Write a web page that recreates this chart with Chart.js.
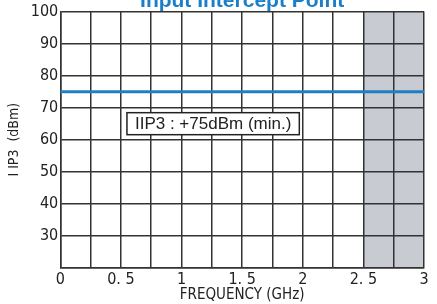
<!DOCTYPE html>
<html>
<head>
<meta charset="utf-8">
<script src="https://cdn.jsdelivr.net/npm/chart.js@4"></script>
<style>
  html, body { margin: 0; padding: 0; background: #fff; }
  #wrap { width: 437px; height: 304px; position: relative; }
</style>
</head>
<body>
<div id="wrap"><canvas id="iipChart"></canvas></div>
<script>
// data
const freqGHz = [0, 3];
const iip3 = [75, 75];
const xTicksShown = [0, 0.5, 1, 1.5, 2, 2.5, 3];
const xTickLabels = ['0', '0. 5', '1', '1. 5', '2', '2. 5', '3'];
const shadeRange = [2.5, 3];
const noteText = 'IIP3 : +75dBm (min.)';
const notePos = [0.55, 65]; // GHz, dBm (left, middle)

const narrow = '"Liberation Sans Narrow", "DejaVu Sans Condensed", sans-serif';

const extras = {
  id: 'extras',
  beforeDraw(chart) {
    // shade goes under the grid
    const { ctx, chartArea, scales: { x } } = chart;
    const x0 = x.getPixelForValue(shadeRange[0]);
    const x1 = x.getPixelForValue(shadeRange[1]);
    ctx.save();
    ctx.fillStyle = '#c9cbd3';
    ctx.fillRect(x0, chartArea.top, x1 - x0, chartArea.bottom - chartArea.top);
    ctx.restore();
  },
  afterDatasetsDraw(chart) {
    const { ctx, scales: { x, y } } = chart;
    ctx.save();
    // note box
    ctx.font = '17px "Liberation Sans", Arial, sans-serif';
    const w = ctx.measureText(noteText).width;
    const px = x.getPixelForValue(notePos[0]);
    const py = y.getPixelForValue(notePos[1]);
    ctx.fillStyle = '#fff';
    ctx.fillRect(px, py - 11, w + 16, 22);
    ctx.strokeStyle = '#222';
    ctx.lineWidth = 1.5;
    ctx.strokeRect(px, py - 11, w + 16, 22);
    ctx.fillStyle = '#222';
    ctx.textBaseline = 'middle';
    ctx.fillText(noteText, px + 8, py + 1);
    // title (cut off at the top)
    ctx.font = 'bold 21px "Liberation Sans", Arial, sans-serif';
    ctx.fillStyle = '#1a7fc8';
    ctx.textAlign = 'center';
    ctx.textBaseline = 'alphabetic';
    ctx.fillText('Input Intercept Point', (x.left + x.right) / 2, 7);
    ctx.restore();
  }
};

new Chart(document.getElementById('iipChart'), {
  type: 'line',
  data: {
    datasets: [{
      data: freqGHz.map((f, i) => ({ x: f, y: iip3[i] })),
      borderColor: '#1f7ec4',
      borderWidth: 3,
      pointRadius: 0,
      fill: false,
      tension: 0
    }]
  },
  options: {
    responsive: true,
    maintainAspectRatio: false,
    animation: false,
    layout: { padding: { top: 11, right: 13, left: 6 } },
    plugins: {
      legend: { display: false },
      tooltip: { enabled: false }
    },
    scales: {
      x: {
        type: 'linear',
        min: 0,
        max: 3,
        grid: { color: '#333', lineWidth: 1.5, drawTicks: false },
        border: { color: '#333', width: 1.5 },
        ticks: {
          stepSize: 0.25,
          autoSkip: false,
          maxRotation: 0,
          padding: 2,
          color: '#222',
          font: { family: narrow, size: 16 },
          callback: (v) => {
            const i = xTicksShown.findIndex(t => Math.abs(t - v) < 1e-6);
            return i >= 0 ? xTickLabels[i] : '';
          }
        },
        title: {
          display: true,
          text: 'FREQUENCY (GHz)',
          color: '#222',
          font: { family: narrow, size: 15 },
          padding: { top: -5, bottom: 0 }
        }
      },
      y: {
        min: 20,
        max: 100,
        grid: { color: '#333', lineWidth: 1.5, drawTicks: false },
        border: { color: '#333', width: 1.5 },
        ticks: {
          stepSize: 10,
          padding: 2,
          color: '#222',
          font: { family: narrow, size: 16 },
          callback: (v) => (v === 20 ? '' : v)
        },
        title: {
          display: true,
          text: 'I IP3  (dBm)',
          color: '#222',
          font: { family: narrow, size: 14 },
          padding: { top: 0, bottom: 6 }
        }
      }
    }
  },
  plugins: [extras]
});
</script>
</body>
</html>
